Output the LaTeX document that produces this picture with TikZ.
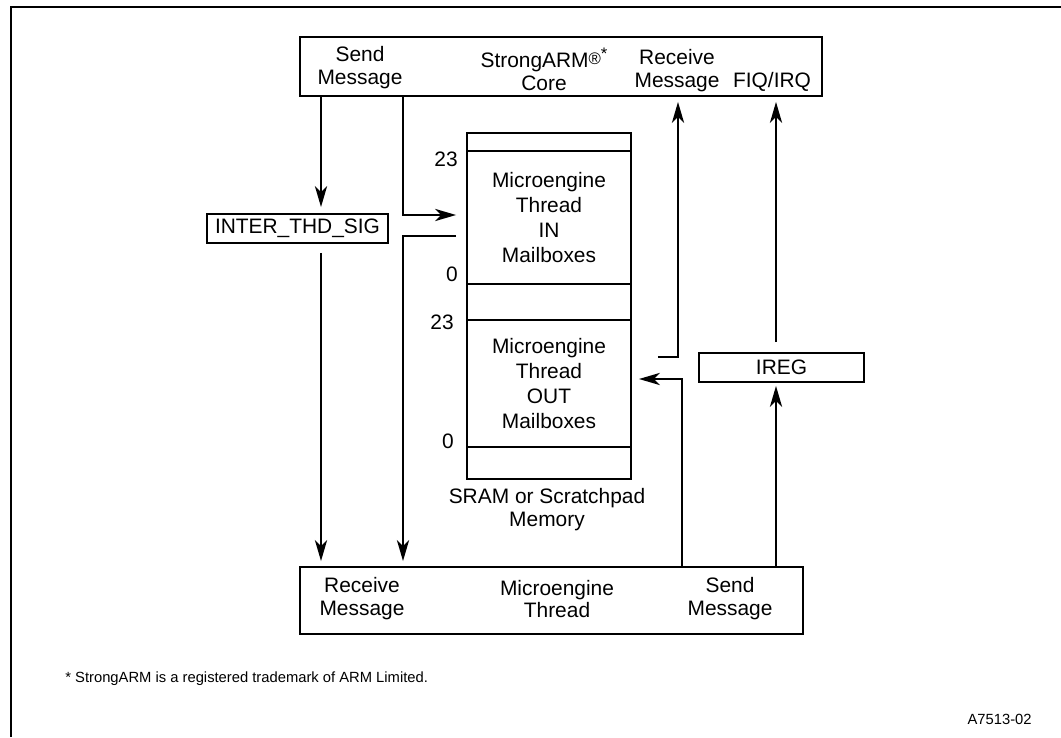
\documentclass[tikz,border=0pt]{standalone}
\usepackage{fontspec}
\setmainfont{Liberation Sans}
\usetikzlibrary{arrows.meta}

\begin{document}
\begin{tikzpicture}[
    every node/.style={font=\fontsize{11.9}{13}\selectfont},
    boxed/.style={draw, line width=1.1pt, inner sep=0pt},
    wire/.style={line width=1pt, -{Stealth[length=12pt, width=7pt, inset=3.5pt]}},
    lbl/.style={align=center},
    mbox/.style={boxed, align=center, font=\fontsize{11.9}{14.2}\selectfont},
    idx/.style={inner sep=0pt},
    note/.style={inner sep=0pt, font=\fontsize{8.4}{10}\selectfont},
    border/.style={line width=1.3pt}
]
    \useasboundingbox (0,0) rectangle (21.22,14.74);

    % --- РАМКА ---
    \draw[border] (0.22,0) -- (0.22,14.60) -- (21.22,14.60);

    % --- ЯДРО STRONGARM ---
    \node[boxed, minimum width=10.44cm, minimum height=1.18cm] (core) at (11.22,13.41) {};
    \node[lbl] (coreSend) at (7.20,13.38) {Send\\Message};
    \node[lbl] (coreName) at (10.88,13.36)
        {StrongARM\raisebox{0.3ex}{\fontsize{9.5}{9.5}\selectfont ®}\raisebox{0.75ex}{\fontsize{9.5}{9.5}\selectfont *}\\Core};
    \node[lbl] (coreRecv) at (13.54,13.32) {Receive\\Message};
    \node[anchor=base] (coreIrq) at (15.44,12.98) {FIQ/IRQ};

    % --- ПАМЯТЬ (SRAM / SCRATCHPAD) ---
    \node[boxed, minimum width=3.28cm, minimum height=6.92cm] (mem) at (10.98,8.62) {};
    \node[mbox, minimum width=3.28cm, minimum height=2.66cm] (inbox) at (10.98,10.39)
        {Microengine\\Thread\\IN\\Mailboxes};
    \node[mbox, minimum width=3.28cm, minimum height=2.54cm] (outbox) at (10.98,7.07)
        {Microengine\\Thread\\OUT\\Mailboxes};
    \node[lbl] (memcap) at (10.94,4.54) {SRAM or Scratchpad\\Memory};

    % номера ящиков
    \node[idx, anchor=north east] (inHi) at (9.16,11.70) {23};
    \node[idx, anchor=base east] (inLo) at (9.16,9.12) {0};
    \node[idx, anchor=east] (outHi) at (9.08,8.30) {23};
    \node[idx, anchor=base east] (outLo) at (9.08,5.78) {0};

    % --- РЕГИСТРЫ ---
    \node[boxed, minimum width=3.62cm, minimum height=0.58cm] (inter) at (5.95,10.17) {INTER\_THD\_SIG};
    \node[boxed, minimum width=3.30cm, minimum height=0.58cm] (ireg) at (15.63,7.39) {IREG\hspace{0.42cm}};

    % --- ПОТОК МИКРОДВИЖКА ---
    \node[boxed, minimum width=10.06cm, minimum height=1.34cm] (thread) at (11.03,2.73) {};
    \node[lbl] (thrRecv) at (7.24,2.76) {Receive\\Message};
    \node[lbl] (thrName) at (11.14,2.76) {Microengine\\Thread};
    \node[lbl] (thrSend) at (14.60,2.76) {Send\\Message};

    % --- ТРАССЫ СОЕДИНЕНИЙ ---
    \coordinate (laneA) at (6.42,0);    % сигнал через INTER_THD_SIG
    \coordinate (laneB) at (8.06,0);    % посылка в IN
    \coordinate (laneC) at (13.56,0);   % приём из OUT
    \coordinate (laneD) at (13.64,0);   % посылка в OUT
    \coordinate (laneE) at (15.52,0);   % прерывание через IREG
    \coordinate (inRow) at (0,10.44);
    \coordinate (inRet) at (0,10.02);
    \coordinate (recvRow) at (0,7.60);
    \coordinate (outRow) at (0,7.16);

    % ядро -> поток
    \draw[wire, shorten >=0.12cm] (core.south -| laneA) -- (inter.north -| laneA);
    \draw[wire, shorten <=0.18cm, shorten >=0.1cm] (inter.south -| laneA) -- (thread.north -| laneA);
    \draw[wire, shorten >=0.2cm] (core.south -| laneB) |- (inbox.west |- inRow);
    \draw[wire, shorten <=0.2cm, shorten >=0.1cm] (inbox.west |- inRet) -| (thread.north -| laneB);

    % поток -> ядро
    \draw[wire, shorten <=0.52cm, shorten >=0.1cm] (outbox.east |- recvRow) -| (core.south -| laneC);
    \draw[wire, shorten >=0.14cm] (thread.north -| laneD) |- (outbox.east |- outRow);
    \draw[wire, shorten >=0.06cm] (thread.north -| laneE) -- (ireg.south -| laneE);
    \draw[wire, shorten <=0.2cm, shorten >=0.1cm] (ireg.north -| laneE) -- (core.south -| laneE);

    % --- ПОДПИСИ ---
    \node[note, anchor=base west] (fnote) at (1.30,1.10) {* StrongARM is a registered trademark of ARM Limited.};
    \node[note, anchor=base east] (figid) at (20.64,0.26) {A7513-02};
\end{tikzpicture}
\end{document}
